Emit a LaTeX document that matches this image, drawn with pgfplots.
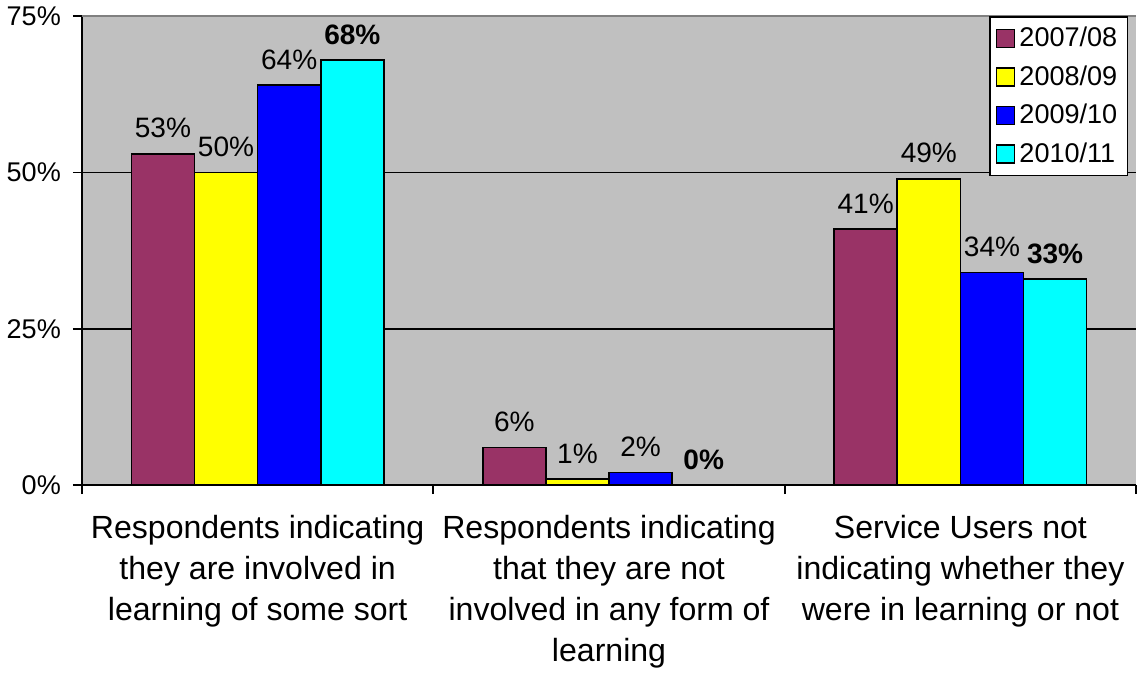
\documentclass[border=0pt]{standalone}
\usepackage{fontspec}
\setmainfont{Liberation Sans}
\usepackage{pgfplots}
\pgfplotsset{compat=1.18}
\definecolor{plotbg}{RGB}{192,192,192}
\definecolor{maroon}{RGB}{153,51,102}
\definecolor{aqua}{RGB}{0,255,255}
\definecolor{pureblue}{RGB}{0,0,255}
\definecolor{pureyellow}{RGB}{255,255,0}
\definecolor{topline}{RGB}{128,128,128}
\begin{document}
\begin{tikzpicture}
\begin{axis}[
    scale only axis,
    width=526pt, height=234pt,
    ybar=0pt, bar width=31.5pt,
    xmin=-0.5, xmax=2.5,
    ymin=0, ymax=75,
    axis lines*=left,
    axis line style={black, line width=0.8pt},
    axis background/.style={fill=plotbg},
    % ticks at the category boundaries, labels between them
    xtick={-0.5,0.5,1.5,2.5},
    x tick label as interval,
    xticklabels={{Respondents indicating\\they are involved in\\learning of some sort},
                 {Respondents indicating\\that they are not\\involved in any form of\\learning},
                 {Service Users not\\indicating whether they\\were in learning or not}},
    xticklabel style={align=center, font=\fontsize{16}{20.5}\selectfont, yshift=-7pt},
    x tick style={draw=black, line width=0.9pt},
    ytick={0,25,50},
    yticklabels={0\%,25\%,50\%},
    extra y ticks={75},
    extra y tick labels={75\%},
    extra y tick style={grid=major, major grid style={topline, line width=0.8pt}},
    ymajorgrids,
    major grid style={black, line width=0.8pt},
    y tick style={draw=black, line width=0.9pt},
    tick align=outside, major tick length=4.5pt,
    yticklabel style={font=\fontsize{13.5}{15}\selectfont, xshift=-2.5pt},
    /pgf/number format/assume math mode=true,
    nodes near coords={\pgfmathprintnumber{\pgfplotspointmeta}\%},
    every node near coord/.append style={font=\fontsize{14}{15}\selectfont, black, yshift=4pt},
    legend style={at={(1,1)}, anchor=north east, xshift=-4pt, yshift=0pt,
        draw=black, line width=0.8pt, fill=white, font=\fontsize{13.5}{15}\selectfont,
        row sep=4pt, inner xsep=3pt, inner ysep=3pt},
    legend cell align=left,
    legend image code/.code={\draw[#1, line width=0.8pt] (0pt,-4.5pt) rectangle (9pt,4.5pt);},
]
\addplot[fill=maroon, draw=black, line width=0.8pt] coordinates {(0,53) (1,6) (2,41)};
\addplot[fill=pureyellow, draw=black, line width=0.8pt] coordinates {(0,50) (1,1) (2,49)};
\addplot[fill=pureblue, draw=black, line width=0.8pt] coordinates {(0,64) (1,2) (2,34)};
\addplot[fill=aqua, draw=black, line width=0.8pt,
    every node near coord/.append style={font=\fontsize{14}{15}\selectfont\bfseries}] coordinates {(0,68) (1,0) (2,33)};
\legend{2007/08,2008/09,2009/10,2010/11}
\end{axis}
\end{tikzpicture}
\end{document}
